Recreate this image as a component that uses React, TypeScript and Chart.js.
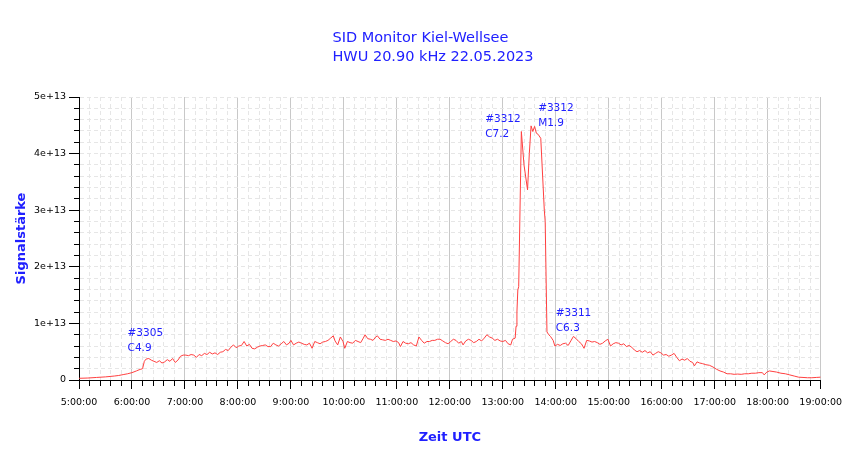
import React, { useEffect, useRef } from 'react';
import Chart from 'chart.js/auto';

const BLUE = 'rgb(32, 32, 255)';
const FONT = '"DejaVu Sans", sans-serif';

const titleLines = ['SID Monitor Kiel-Wellsee', 'HWU 20.90 kHz 22.05.2023'];

// Zeit UTC (H:MM) und Signalstärke in Einheiten von 1e12
const times = [
    '5:00', '5:10', '5:20', '5:30', '5:40', '5:45', '5:50', '5:55', '6:00', '6:05',
    '6:08', '6:10', '6:12', '6:14', '6:16', '6:19', '6:22', '6:25', '6:28', '6:31',
    '6:34', '6:37', '6:40', '6:43', '6:46', '6:49', '6:52', '6:55', '6:58', '7:01',
    '7:04', '7:07', '7:10', '7:13', '7:16', '7:19', '7:22', '7:25', '7:28', '7:31',
    '7:34', '7:37', '7:40', '7:43', '7:46', '7:49', '7:52', '7:55', '7:58', '8:01',
    '8:04', '8:07', '8:10', '8:13', '8:16', '8:19', '8:22', '8:25', '8:28', '8:31',
    '8:34', '8:37', '8:40', '8:43', '8:46', '8:49', '8:52', '8:55', '8:58', '9:00',
    '9:03', '9:06', '9:09', '9:12', '9:15', '9:18', '9:21', '9:24', '9:27', '9:30',
    '9:33', '9:36', '9:39', '9:42', '9:45', '9:48', '9:50', '9:53', '9:56', '9:59',
    '10:01', '10:04', '10:07', '10:10', '10:13', '10:16', '10:19', '10:22', '10:24', '10:27',
    '10:30', '10:33', '10:36', '10:38', '10:41', '10:44', '10:47', '10:50', '10:53', '10:56',
    '10:59', '11:02', '11:04', '11:07', '11:10', '11:13', '11:16', '11:19', '11:22', '11:25',
    '11:28', '11:31', '11:34', '11:37', '11:40', '11:43', '11:46', '11:49', '11:52', '11:55',
    '11:58', '12:01', '12:04', '12:07', '12:10', '12:13', '12:15', '12:18', '12:21', '12:24',
    '12:27', '12:30', '12:33', '12:36', '12:39', '12:42', '12:45', '12:48', '12:51', '12:54',
    '12:57', '13:00', '13:03', '13:06', '13:09', '13:11', '13:14', '13:15', '13:16', '13:17',
    '13:18', '13:21', '13:24', '13:28', '13:30', '13:32', '13:34', '13:36', '13:38', '13:40',
    '13:43', '13:47', '13:48', '13:50', '13:52', '13:54', '13:57', '13:59', '14:02', '14:05',
    '14:08', '14:11', '14:14', '14:17', '14:20', '14:23', '14:26', '14:29', '14:32', '14:35',
    '14:38', '14:41', '14:44', '14:47', '14:50', '14:53', '14:56', '14:59', '15:02', '15:05',
    '15:08', '15:11', '15:14', '15:17', '15:20', '15:23', '15:26', '15:29', '15:32', '15:35',
    '15:38', '15:41', '15:44', '15:47', '15:50', '15:53', '15:56', '15:59', '16:02', '16:05',
    '16:08', '16:11', '16:14', '16:17', '16:20', '16:23', '16:26', '16:29', '16:32', '16:35',
    '16:37', '16:40', '16:43', '16:46', '16:50', '16:54', '16:58', '17:02', '17:06', '17:10',
    '17:14', '17:18', '17:22', '17:26', '17:30', '17:34', '17:38', '17:42', '17:46', '17:50',
    '17:54', '17:56', '17:59', '18:02', '18:06', '18:10', '18:15', '18:20', '18:25', '18:30',
    '18:35', '18:40', '18:45', '18:50', '18:55', '19:00',
];

const signal = [
    0.3, 0.35, 0.45, 0.55, 0.7, 0.8, 0.95, 1.1, 1.3, 1.6,
    1.8, 1.9, 2.0, 3.3, 3.7, 3.8, 3.5, 3.3, 3.1, 3.4,
    3.0, 3.2, 3.6, 3.3, 3.8, 3.1, 3.5, 4.2, 4.4, 4.4,
    4.3, 4.5, 4.4, 4.0, 4.5, 4.3, 4.7, 4.5, 4.9, 4.6,
    4.8, 4.5, 4.9, 5.0, 5.4, 5.2, 5.8, 6.2, 5.7, 6.0,
    6.1, 6.8, 6.0, 6.3, 5.6, 5.5, 5.8, 6.0, 6.1, 6.2,
    5.9, 5.9, 6.5, 6.2, 6.0, 6.4, 6.8, 6.2, 6.5, 7.0,
    6.2, 6.5, 6.7, 6.5, 6.3, 6.2, 6.5, 5.6, 6.8, 6.6,
    6.4, 6.7, 6.8, 7.0, 7.4, 7.8, 6.9, 6.2, 7.6, 6.8,
    5.6, 6.8, 6.6, 6.5, 7.0, 6.8, 6.6, 7.4, 8.0, 7.3,
    7.2, 7.0, 7.6, 7.8, 7.2, 7.1, 7.0, 7.2, 7.0, 6.8,
    6.9, 6.6, 5.9, 6.8, 6.5, 6.4, 6.6, 6.2, 6.0, 7.6,
    7.0, 6.5, 6.8, 6.8, 7.0, 7.0, 7.2, 7.2, 6.9, 6.6,
    6.4, 6.8, 7.2, 7.0, 6.5, 6.8, 6.2, 6.9, 7.2, 7.0,
    6.6, 6.8, 7.2, 6.9, 7.4, 8.0, 7.6, 7.4, 7.0, 7.2,
    6.9, 6.8, 7.0, 6.4, 6.2, 7.2, 7.4, 9.5, 12.0, 15.9,
    16.5, 43.9, 38.0, 33.6, 40.0, 44.9, 43.9, 44.8, 43.6, 43.4,
    42.7, 30.0, 28.0, 8.5, 8.0, 7.7, 7.0, 6.0, 6.3, 6.1,
    6.4, 6.5, 6.1, 6.9, 7.7, 7.3, 6.8, 6.4, 5.6, 7.0,
    6.9, 6.7, 6.8, 6.6, 6.3, 6.5, 6.9, 7.2, 6.0, 6.4,
    6.6, 6.5, 6.2, 6.4, 5.9, 6.1, 5.8, 5.3, 5.0, 5.2,
    4.9, 5.2, 4.8, 5.0, 4.4, 4.7, 5.0, 4.8, 4.4, 4.5,
    4.2, 4.4, 4.7, 4.0, 3.4, 3.7, 3.5, 3.8, 3.3, 3.1,
    2.5, 3.2, 3.0, 2.9, 2.7, 2.6, 2.3, 1.9, 1.6, 1.4,
    1.1, 1.1, 1.0, 1.05, 1.0, 1.1, 1.1, 1.2, 1.2, 1.3,
    1.3, 0.9, 1.4, 1.6, 1.5, 1.4, 1.2, 1.1, 0.9, 0.7,
    0.5, 0.45, 0.4, 0.4, 0.45, 0.5,
];

// Flare-Beschriftungen
const flareTimes = ['5:55', '12:40', '13:40', '14:00'];
const flareLevels = [8.25, 46.1, 48.0, 11.8];
const flareIds = ['#3305', '#3312', '#3312', '#3311'];
const flareClasses = ['C4.9', 'C7.2', 'M1.9', 'C6.3'];

const toMinutes = (t: string) => {
    const [h, m] = t.split(':').map(Number);
    return h * 60 + m;
};

const isMajorY = (v: number) => Math.abs(v / 1e13 - Math.round(v / 1e13)) < 1e-6;

const flareLabels = {
    id: 'flareLabels',
    afterDatasetsDraw(chart: any) {
        const { ctx, scales } = chart;
        ctx.save();
        ctx.font = '10.5px ' + FONT;
        ctx.fillStyle = BLUE;
        ctx.textAlign = 'left';
        ctx.textBaseline = 'middle';
        flareTimes.forEach((t, i) => {
            const px = scales.x.getPixelForValue(toMinutes(t));
            const py = scales.y.getPixelForValue(flareLevels[i] * 1e12);
            ctx.fillText(flareIds[i], px, py);
            ctx.fillText(flareClasses[i], px, py + 15);
        });
        ctx.restore();
    },
};

// zweizeiliger Titel, linksbündig als Block
const titleBlock = {
    id: 'titleBlock',
    afterDraw(chart: any) {
        const { ctx } = chart;
        ctx.save();
        ctx.font = '14.5px ' + FONT;
        ctx.fillStyle = BLUE;
        ctx.textAlign = 'left';
        ctx.textBaseline = 'middle';
        const w = Math.max(...titleLines.map((l) => ctx.measureText(l).width));
        const left = chart.width / 2 + 8 - w / 2;
        titleLines.forEach((l, i) => ctx.fillText(l, left, 38.5 + i * 18.3));
        ctx.restore();
    },
};

const App: React.FC = () => {
    const chartRef = useRef<HTMLCanvasElement | null>(null);

    // @ts-ignore
    useEffect(() => {
        if (!chartRef.current) return;
        const ctx = chartRef.current.getContext('2d');
        if (!ctx) return;

        const points = times.map((t, i) => ({ x: toMinutes(t), y: signal[i] * 1e12 }));

        const chartInstance = new Chart(ctx, {
            type: 'line',
            data: {
                datasets: [
                    {
                        label: 'HWU',
                        data: points,
                        borderColor: 'rgb(255, 64, 64)',
                        borderWidth: 1,
                        pointRadius: 0,
                        tension: 0,
                        fill: false,
                    },
                ],
            },
            options: {
                animation: false,
                responsive: true,
                maintainAspectRatio: false,
                layout: { padding: { left: 0, right: 29, top: 97, bottom: 0 } },
                plugins: {
                    legend: { display: false },
                    tooltip: { enabled: false },
                    title: { display: false },
                },
                scales: {
                    x: {
                        type: 'linear',
                        min: toMinutes('5:00'),
                        max: toMinutes('19:00'),
                        afterFit: (scale: any) => {
                            scale.height = 79;
                        },
                        ticks: {
                            stepSize: 12,
                            autoSkip: false,
                            maxRotation: 0,
                            padding: 8,
                            color: '#000',
                            font: { family: FONT, size: 9.5 },
                            callback: (value: any) => {
                                const v = Number(value);
                                if (v % 60 !== 0) return '';
                                return `${v / 60}:00:00`;
                            },
                        },
                        grid: {
                            color: (c: any) => (c.tick && c.tick.value % 60 === 0 ? '#c8c8c8' : '#e6e6e6'),
                            lineWidth: 1,
                            tickLength: 9,
                            tickColor: '#000',
                            tickBorderDash: (c: any) => (c.tick && c.tick.value % 60 === 0 ? [] : [5, 100]),
                        },
                        border: {
                            display: true,
                            color: '#000',
                            width: 1,
                            dash: (c: any) => (c.tick && c.tick.value % 60 !== 0 ? [4, 3] : []),
                        },
                        title: {
                            display: true,
                            text: 'Zeit UTC',
                            color: BLUE,
                            font: { family: FONT, size: 13, weight: 'bold' },
                            padding: { top: 0, bottom: 14 },
                        },
                    },
                    y: {
                        min: 0,
                        max: 5e13,
                        afterFit: (scale: any) => {
                            scale.width = 79;
                        },
                        ticks: {
                            stepSize: 2e12,
                            autoSkip: false,
                            padding: 3,
                            color: '#000',
                            font: { family: FONT, size: 9.5 },
                            callback: (value: any) => {
                                const v = Number(value);
                                if (!isMajorY(v)) return '';
                                const n = Math.round(v / 1e13);
                                return n === 0 ? '0' : `${n}e+13`;
                            },
                        },
                        grid: {
                            color: '#e6e6e6',
                            lineWidth: 1,
                            tickLength: 10,
                            tickColor: '#000',
                            tickBorderDash: (c: any) => (c.tick && isMajorY(c.tick.value) ? [] : [0, 5, 5, 100]),
                        },
                        border: {
                            display: true,
                            color: '#000',
                            width: 1,
                            dash: (c: any) => (c.tick ? [4, 3] : []),
                        },
                        title: {
                            display: true,
                            text: 'Signalstärke',
                            color: BLUE,
                            font: { family: FONT, size: 13, weight: 'bold' },
                            padding: { top: 14, bottom: 0 },
                        },
                    },
                },
            },
            plugins: [flareLabels, titleBlock],
        } as any);

        return () => {
            chartInstance.destroy();
        };
    }, []);

    return (
        <div style={{ position: 'absolute', left: 0, top: 0, width: 850, height: 459, background: '#fff' }}>
            <canvas ref={chartRef} />
        </div>
    );
};

export default App;
